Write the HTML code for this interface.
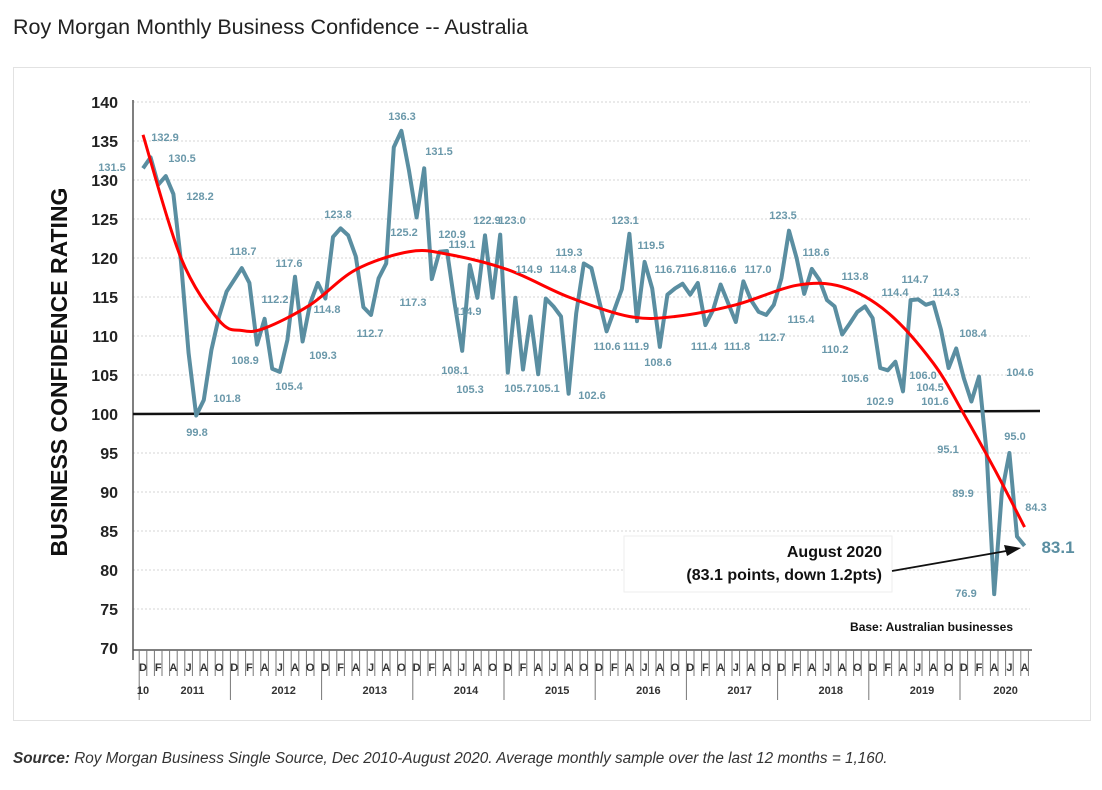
<!DOCTYPE html>
<html><head><meta charset="utf-8"><style>
body{margin:0;background:#fff;width:1102px;height:790px;overflow:hidden;font-family:"Liberation Sans",sans-serif}
#title{position:absolute;left:13px;top:15px;font-size:21.5px;color:#222}
#box{position:absolute;left:13px;top:67px;width:1076px;height:652px;border:1px solid #e2e2e2}
#src{position:absolute;left:13px;top:750px;font-size:15.3px;font-style:italic;color:#333}
svg{position:absolute;left:0;top:0}
</style></head><body>
<div id="title">Roy Morgan Monthly Business Confidence -- Australia</div>
<div id="box"></div>
<div id="src"><b>Source:</b> Roy Morgan Business Single Source, Dec 2010-August 2020. Average monthly sample over the last 12 months = 1,160.</div>
<svg id="chart" width="1102" height="790"></svg>
<script>
const values=[131.5,132.9,129.4,130.5,128.2,119.5,107.8,99.8,101.8,108.2,112.5,115.7,117.2,118.7,116.8,108.9,112.2,105.8,105.4,109.5,117.6,109.3,114.2,116.8,114.8,122.7,123.8,122.9,120.2,113.7,112.7,117.4,119.3,134.2,136.3,131.2,125.2,131.5,117.3,120.8,120.9,
114.2,108.1,119.1,114.9,122.9,114.9,123.0,105.3,114.9,105.7,112.5,105.1,114.8,113.8,112.5,102.6,112.9,119.3,118.7,114.6,110.6,113.3,116.0,123.1,111.9,119.5,116.1,108.6,115.3,116.1,116.7,115.3,116.8,111.4,113.3,116.6,114.2,111.8,117.0,
114.6,113.1,112.7,114.0,117.4,123.5,120.0,115.4,118.6,117.2,114.6,113.8,110.2,111.6,113.1,113.8,112.3,105.9,105.6,106.7,102.9,114.6,114.7,114.0,114.3,110.8,105.9,108.4,104.6,101.6,104.8,95.1,76.9,89.9,95.0,84.3,83.1];
const trendIdx=[0,5,10,13,16,22,28,35,40,48,56,64,70,78,86,92,98,104,108,112,116];
const trendVal=[135.8,120,112,110.7,111,114,118.5,120.8,120.5,118.5,115,112.5,112.5,114,116.5,116.3,113,106.5,100,93,85.5];
const yTicks=[70,75,80,85,90,95,100,105,110,115,120,125,130,135,140];
const monthLetters=["D","J","F","M","A","M","J","J","A","S","O","N"];
const years=["2011","2012","2013","2014","2015","2016","2017","2018","2019","2020"];
const labels=[["131.5",112,171],["132.9",165,141],["130.5",182,162],["128.2",200,200],["99.8",197,436],["101.8",227,402],["118.7",243,255],["108.9",245,364],["117.6",289,267],["112.2",275,303],["105.4",289,390],["109.3",323,359],["123.8",338,218],["114.8",327,313],["112.7",370,337],["136.3",402,120],["125.2",404,236],["131.5",439,155],["117.3",413,306],["120.9",452,238],["119.1",462,248],["122.9",487,224],["123.0",512,224],["114.9",468,315],["108.1",455,374],["105.3",470,393],["114.9",529,273],["114.8",563,273],["105.7",518,392],["105.1",546,392],["119.3",569,256],["102.6",592,399],["110.6",607,350],["111.9",636,350],["123.1",625,224],["119.5",651,249],["108.6",658,366],["116.7",668,273],["116.8",695,273],["116.6",723,273],["117.0",758,273],["111.4",704,350],["111.8",737,350],["112.7",772,341],["123.5",783,219],["118.6",816,256],["115.4",801,323],["113.8",855,280],["110.2",835,353],["114.4",895,296],["114.7",915,283],["114.3",946,296],["105.6",855,382],["102.9",880,405],["106.0",923,379],["104.5",930,391],["101.6",935,405],["108.4",973,337],["104.6",1020,376],["95.1",948,453],["95.0",1015,440],["89.9",963,497],["84.3",1036,511],["76.9",966,597]];
const NS="http://www.w3.org/2000/svg";
const svg=document.getElementById('chart');
const x=i=>143+7.6*i;
const y=v=>414-(v-100)*7.8;
function mk(t,a,p){const e=document.createElementNS(NS,t);for(const k in a)e.setAttribute(k,a[k]);(p||svg).appendChild(e);return e;}
yTicks.forEach(v=>{
  if(v!==70&&v!==100){const g=mk('line',{x1:133,x2:1030,y1:y(v),y2:y(v),stroke:'#d4d4d4','stroke-dasharray':'2,2'});
  
  }
  const t=mk('text',{x:118,y:y(v)+6,'text-anchor':'end','font-size':16,'font-weight':'bold',fill:'#222'});
  t.textContent=v;
  
  
});
mk('line',{x1:133,x2:133,y1:100,y2:660,stroke:'#555','stroke-width':1.5});
mk('line',{x1:133,x2:1032,y1:650,y2:650,stroke:'#555','stroke-width':1.5});
const yt=mk('text',{x:0,y:0,transform:'translate(67,372) rotate(-90)','text-anchor':'middle','font-size':23,'font-weight':'bold',fill:'#111'});
yt.textContent='BUSINESS CONFIDENCE RATING';


for(let i=0;i<values.length;i++){
  mk('line',{x1:x(i)+3.8,x2:x(i)+3.8,y1:650,y2:(i%12===11)?700:676,stroke:'#777','stroke-width':1});
  if(i%2===0){const t=mk('text',{x:x(i),y:671,'text-anchor':'middle','font-size':11,'font-weight':'bold',fill:'#333'});
  t.textContent=monthLetters[i%12];
  
  }
}
mk('line',{x1:x(0)-3.8,x2:x(0)-3.8,y1:650,y2:700,stroke:'#777'});
const t10=mk('text',{x:143,y:694,'text-anchor':'middle','font-size':11,'font-weight':'bold',fill:'#333'});t10.textContent='10';
years.forEach((yr,k)=>{const c=k<9?x(12*k+6.5):x(113.5);
  const t=mk('text',{x:c,y:694,'text-anchor':'middle','font-size':11,'font-weight':'bold',fill:'#333'});
  t.textContent=yr;
  
  });
const bl=mk('line',{x1:133,x2:1040,y1:y(100),y2:y(100)-3,stroke:'#111','stroke-width':2.5});


const sp=mk('polyline',{points:values.map((v,i)=>x(i)+','+y(v)).join(' '),fill:'none',stroke:'#5a8ea1','stroke-width':4,'stroke-linejoin':'round'});


const P=trendIdx.map((i,k)=>[x(i),y(trendVal[k])]);
let d='M'+P[0].join(',');
for(let k=0;k<P.length-1;k++){const p0=P[Math.max(0,k-1)],p1=P[k],p2=P[k+1],p3=P[Math.min(P.length-1,k+2)];
 d+=` C${p1[0]+(p2[0]-p0[0])/6},${p1[1]+(p2[1]-p0[1])/6} ${p2[0]-(p3[0]-p1[0])/6},${p2[1]-(p3[1]-p1[1])/6} ${p2[0]},${p2[1]}`;}
const tr=mk('path',{d:d,fill:'none',stroke:'#f00','stroke-width':3});


labels.forEach(l=>{const t=mk('text',{x:l[1],y:l[2],'text-anchor':'middle','font-size':11,'font-weight':'bold',fill:'#6a98aa'});
  t.textContent=l[0];
  
  });
const big=mk('text',{x:1058,y:553,'text-anchor':'middle','font-size':17,'font-weight':'bold',fill:'#5a8ea1'});
big.textContent='83.1';


const ab=mk('rect',{x:624,y:536,width:268,height:56,fill:'#fff',stroke:'#eee'});


const a1=mk('text',{x:882,y:557,'text-anchor':'end','font-size':16,'font-weight':'bold',fill:'#111'});a1.textContent='August 2020';


const a2=mk('text',{x:882,y:580,'text-anchor':'end','font-size':16,'font-weight':'bold',fill:'#111'});a2.textContent='(83.1 points, down 1.2pts)';


mk('line',{x1:892,y1:571,x2:1012,y2:550,stroke:'#111','stroke-width':1.8});
mk('polygon',{points:'1021,548 1004,545 1007,556',fill:'#111'});
const bs=mk('text',{x:1013,y:631,'text-anchor':'end','font-size':12,'font-weight':'bold',fill:'#111'});bs.textContent='Base: Australian businesses';


</script>
</body></html>
